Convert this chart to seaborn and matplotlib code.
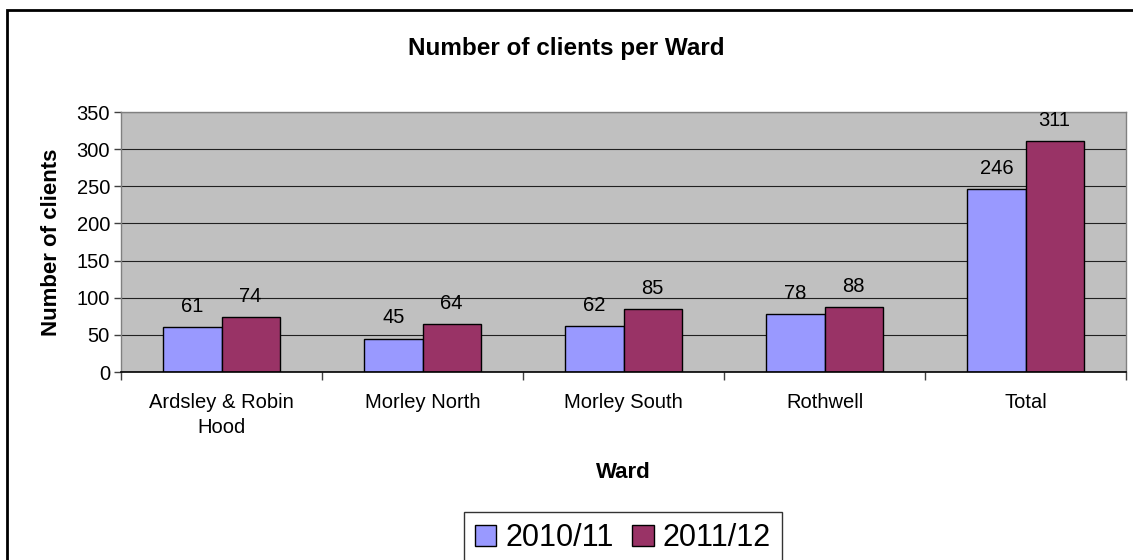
import matplotlib
matplotlib.use("Agg")
import matplotlib.pyplot as plt
import seaborn as sns
import pandas as pd
from matplotlib.patches import Rectangle
from matplotlib.ticker import FixedLocator

# --- Data ---
wards = ['Ardsley & Robin\nHood', 'Morley North', 'Morley South', 'Rothwell', 'Total']
years = ['2010/11', '2011/12']
clients_2010 = [61, 45, 62, 78, 246]
clients_2011 = [74, 64, 85, 88, 311]

df = pd.DataFrame({
    'Ward': wards * 2,
    'Clients': clients_2010 + clients_2011,
    'Year': [years[0]] * len(wards) + [years[1]] * len(wards),
})

sns.set_style('white')
plt.rcParams['font.family'] = ['Liberation Sans', 'DejaVu Sans']
plt.rcParams.update({'text.color': 'black', 'axes.labelcolor': 'black',
                     'xtick.labelcolor': 'black', 'ytick.labelcolor': 'black'})

fig = plt.figure(figsize=(11.33, 5.6), dpi=100)
ax = fig.add_axes([121 / 1133, 1 - 372 / 560, (1126 - 121) / 1133, (372 - 112) / 560])
ax.set_facecolor('#C0C0C0')

sns.barplot(data=df, x='Ward', y='Clients', hue='Year', palette=['#9999FF', '#993366'],
            width=0.58, edgecolor='black', linewidth=1, saturation=1, ax=ax, legend=False)

for cont in ax.containers:
    ax.bar_label(cont, padding=8, fontsize=14.5)

ax.set_ylim(0, 350)
ax.set_xlim(-0.5, 4.5)
ax.set_yticks(range(0, 351, 50))
ax.yaxis.grid(True, color='#202020', linewidth=0.8)
ax.set_axisbelow(True)

# ticks between categories, as in the original
ax.tick_params(axis='x', which='major', length=0, labelsize=14.5, pad=15)
for lbl in ax.get_xticklabels():
    lbl.set_linespacing(1.4)
ax.xaxis.set_minor_locator(FixedLocator([-0.5, 0.5, 1.5, 2.5, 3.5, 4.5]))
ax.tick_params(axis='x', which='minor', length=6, width=1, color='#404040', direction='out', bottom=True)
ax.tick_params(axis='y', length=5, width=1, color='#404040', direction='out', labelsize=14.5, left=True, pad=3)

for side in ['top', 'right', 'left']:
    ax.spines[side].set_color('#808080')
    ax.spines[side].set_linewidth(1)
ax.spines['bottom'].set_color('black')
ax.spines['bottom'].set_linewidth(1.2)

ax.set_xlabel('Ward', fontsize=16, fontweight='bold', labelpad=18)
ax.set_ylabel('Number of clients', fontsize=16, fontweight='bold', labelpad=10)
fig.text(0.5, 1 - 48 / 560, 'Number of clients per Ward', ha='center', va='center',
         fontsize=17.5, fontweight='bold')

handles = [Rectangle((0, 0), 1, 1, facecolor=c, edgecolor='black', linewidth=1)
           for c in ['#9999FF', '#993366']]
leg = fig.legend(handles, years, loc='center', bbox_to_anchor=(623 / 1133, 1 - 538 / 560),
                 ncol=2, fontsize=22, frameon=True, fancybox=False, handlelength=0.7,
                 handleheight=0.7, handletextpad=0.3, columnspacing=0.6, borderpad=0.35)
leg.get_frame().set_edgecolor('black')
leg.get_frame().set_linewidth(1)

# outer chart border (cut off at right and bottom)
fig.patches.append(Rectangle((7 / 1133, -0.1), 1.2, (560 - 10) / 560 + 0.1,
                             transform=fig.transFigure, fill=False, edgecolor='black',
                             linewidth=2))

fig.savefig('out.png', dpi=100, facecolor='white')
